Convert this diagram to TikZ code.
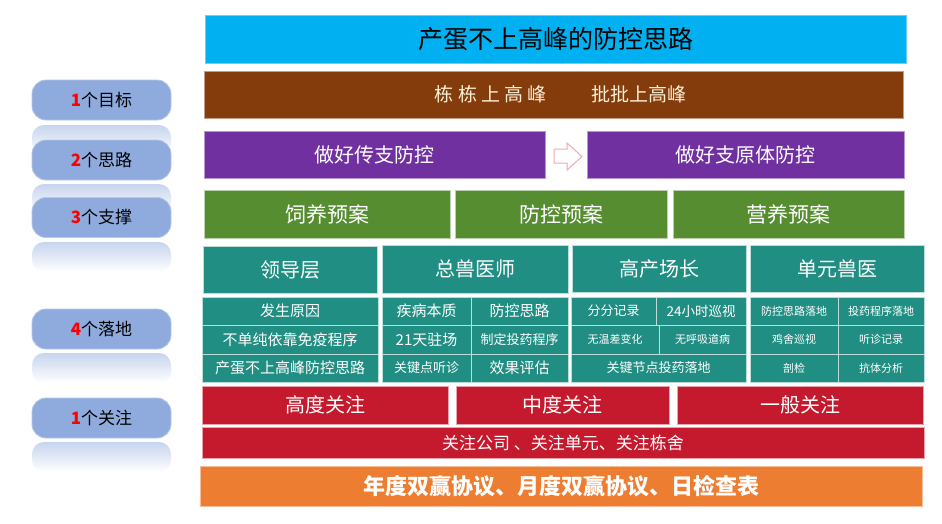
\documentclass[tikz,border=0pt]{standalone}
\usepackage{fontspec}
\setmainfont{Noto Sans CJK SC}
\newfontfamily\cjk{Noto Sans CJK SC}
\definecolor{cyanT}{HTML}{00B0F0}
\definecolor{brownT}{HTML}{843C0C}
\definecolor{purpT}{HTML}{7030A0}
\definecolor{greenT}{HTML}{568D31}
\definecolor{tealT}{HTML}{218E83}
\definecolor{redT}{HTML}{C51A2E}
\definecolor{orangeT}{HTML}{ED7D31}
\definecolor{pillT}{HTML}{8FAADC}
\definecolor{pillE}{HTML}{B4C7E7}
\definecolor{pinkA}{HTML}{F4A8B2}
\definecolor{creamT}{HTML}{FCEFD6}
\newcommand\fs[1]{\fontsize{#1}{#1}\selectfont}
% name, x1, y1, x2, y2, style, text
\newcommand\rbox[7]{%
  \node[#6, minimum width={#4-#2}, minimum height={#5-#3}] (#1) at ({(#2+#4)/2},{(#3+#5)/2}) {#7};}
\tikzset{
  box/.style={rectangle, inner sep=0pt, outer sep=0pt, line width=0.7pt, text=white},
  titlebox/.style={box, fill=cyanT, draw=cyanT!60!white, text=black, font=\fs{25}},
  goalbox/.style={box, fill=brownT, draw=brownT!50!white, text=creamT, font=\fs{19}},
  ideabox/.style={box, fill=purpT, draw=purpT!50!white, font=\fs{20}},
  planbox/.style={box, fill=greenT, draw=greenT!40!white, font=\fs{21}},
  headbox/.style={box, fill=tealT, draw=tealT!30!white, font=\fs{20}},
  cellbox/.style={box, fill=tealT, draw=tealT!30!white, font=\fs{#1}},
  cellbox/.default=15,
  focusbox/.style={box, fill=redT, draw=redT!40!white, font=\fs{#1}},
  focusbox/.default=20,
  protobox/.style={box, fill=orangeT, draw=orangeT!50!white, font=\fs{22}\bfseries},
  pill/.style={rectangle, rounded corners=14pt, fill=pillT, draw=pillE, line width=0.8pt,
    minimum width=139pt, minimum height=40pt, inner sep=0pt, text=black, font=\fs{17}},
  refl/.style={rounded corners=12pt, top color=pillT!50!white, middle color=white, bottom color=white},
  hollowarrow/.style={draw=pinkA, fill=white, line width=1pt, line join=miter}
}
\newcommand\num[1]{\textcolor{red}{\bfseries #1}}
\begin{document}
\begin{tikzpicture}[x=1pt,y=-1pt]
\useasboundingbox (0,0) rectangle (942,523);
\fill[white] (0,0) rectangle (942,523);

% reflections of the labels
\shade[refl] (32,125) rectangle (171,155);
\shade[refl] (32,184) rectangle (171,214);
\shade[refl] (32,242) rectangle (171,272);
\shade[refl] (32,353) rectangle (171,383);
\shade[refl] (32,442) rectangle (171,472);

% left labels
\node[pill] (p1) at (101.5,100) {\num{1}个目标};
\node[pill] (p2) at (101.5,160) {\num{2}个思路};
\node[pill] (p3) at (101.5,217.5) {\num{3}个支撑};
\node[pill] (p4) at (101.5,329) {\num{4}个落地};
\node[pill] (p5) at (101.5,418) {\num{1}个关注};

% title and goal
\rbox{title}{205}{15}{906}{63}{titlebox}{产蛋不上高峰的防控思路}
\rbox{goal}{204}{71}{903}{118}{goalbox}{\hspace{14pt}栋 栋 上 高 峰\hspace{44pt}批批上高峰}

% ideas
\rbox{idea1}{204}{131}{545}{178}{ideabox}{做好传支防控}
\rbox{idea2}{587}{131}{904}{178}{ideabox}{做好支原体防控}
\draw[hollowarrow] (554,149) -- (567,149) -- (567,143) -- (582,156.5) -- (567,170) -- (567,163) -- (554,163) -- cycle;

% supports
\rbox{plan1}{204}{190}{450}{238}{planbox}{饲养预案}
\rbox{plan2}{455}{190}{667}{238}{planbox}{防控预案}
\rbox{plan3}{673}{190}{904}{238}{planbox}{营养预案}

% roles
\rbox{lead}{203}{246}{377}{293}{headbox}{领导层}
\rbox{chief}{382}{245}{568}{293}{headbox}{总兽医师}
\rbox{farm}{572}{245}{746}{292}{headbox}{高产场长}
\rbox{unit}{750}{245}{924}{292}{headbox}{单元兽医}

% leadership column
\rbox{l1}{202}{297}{378}{325}{cellbox}{发生原因}
\rbox{l2}{202}{325}{378}{354}{cellbox}{不单纯依靠免疫程序}
\rbox{l3}{202}{354}{378}{382}{cellbox}{产蛋不上高峰防控思路}

% chief vet columns
\rbox{c1a}{382}{297}{471}{325}{cellbox}{疾病本质}
\rbox{c2a}{382}{325}{471}{354}{cellbox}{21天驻场}
\rbox{c3a}{382}{354}{471}{382}{cellbox=13}{关键点听诊}
\rbox{c1b}{471}{297}{568}{325}{cellbox}{防控思路}
\rbox{c2b}{471}{325}{568}{354}{cellbox=13}{制定投药程序}
\rbox{c3b}{471}{354}{568}{382}{cellbox}{效果评估}

% farm manager columns
\rbox{f1a}{571}{297}{656}{325}{cellbox=13}{分分记录}
\rbox{f1b}{656}{297}{746}{325}{cellbox=13.5}{24小时巡视}
\rbox{f2a}{571}{325}{659}{354}{cellbox=11}{无温差变化}
\rbox{f2b}{659}{325}{746}{354}{cellbox=11}{无呼吸道病}
\rbox{f3}{571}{354}{746}{382}{cellbox=13}{关键节点投药落地}

% unit vet columns
\rbox{u1a}{750}{297}{838}{325}{cellbox=11}{防控思路落地}
\rbox{u1b}{838}{297}{924}{325}{cellbox=11}{投药程序落地}
\rbox{u2a}{750}{325}{838}{354}{cellbox=11}{鸡舍巡视}
\rbox{u2b}{838}{325}{924}{354}{cellbox=11}{听诊记录}
\rbox{u3a}{750}{354}{838}{382}{cellbox=11}{剖检}
\rbox{u3b}{838}{354}{924}{382}{cellbox=11}{抗体分析}

% focus
\rbox{hi}{202}{386}{448}{424}{focusbox}{高度关注}
\rbox{mid}{456}{386}{669}{424}{focusbox}{中度关注}
\rbox{low}{677}{386}{923}{424}{focusbox}{一般关注}
\rbox{scope}{202}{427}{924}{458}{focusbox=17}{关注公司 、关注单元、关注栋舍}

% protocols
\rbox{proto}{200}{466}{922}{506}{protobox}{年度双赢协议、月度双赢协议、日检查表}
\end{tikzpicture}
\end{document}
